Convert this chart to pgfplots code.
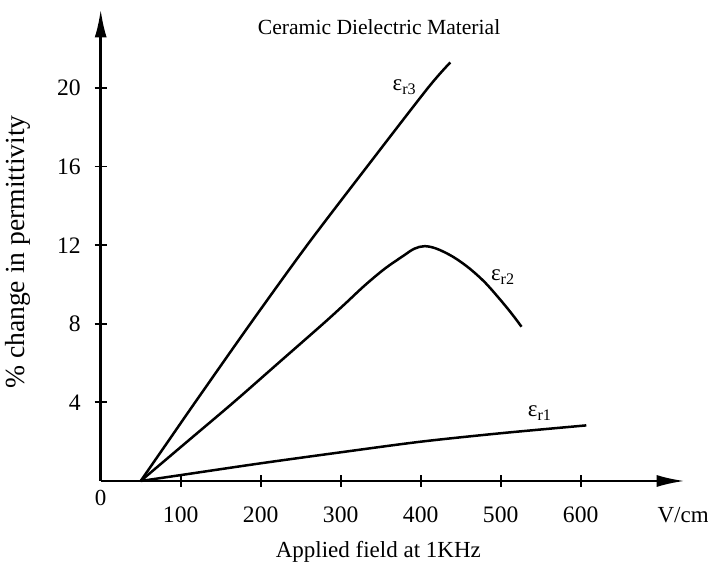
\documentclass[border=0pt]{standalone}
\usepackage{fontspec}
\setmainfont{Liberation Serif}
\usepackage{pgfplots}
\pgfplotsset{compat=1.18}
\usetikzlibrary{arrows.meta}
\begin{document}
\fontsize{11.5pt}{13pt}\selectfont
\begin{tikzpicture}
\useasboundingbox (-50.35pt,-45.5pt) rectangle (303.65pt,240.5pt);
\begin{axis}[
  at={(0pt,0pt)}, anchor=origin,
  scale only axis, width=292pt, height=235.8pt,
  xmin=0, xmax=730, ymin=0, ymax=24,
  axis lines=left,
  axis line style={line width=1.2pt, -{Latex[length=14pt,width=6pt]}},
  xtick={100,200,300,400,500,600}, ytick={4,8,12,16,20},
  tick align=center, major tick length=6pt,
  tick style={line width=0.9pt, black},
  clip=false,
  /pgf/number format/assume math mode=true,
  ticklabel style={font=\fontsize{11.8pt}{13pt}\selectfont},
  xticklabel style={yshift=-6pt},
  yticklabel style={xshift=-3pt},
]
\addplot[line width=1.25pt, smooth, tension=0.5] coordinates {
 (50,0) (84,2) (118,4) (187,8) (258,12) (333,16) (409,20) (437,21.3)};
\addplot[line width=1.25pt, smooth, tension=0.55] coordinates {
 (50,0) (108,2) (166,4) (222,6) (278,8) (305,9.0) (330,9.95) (355,10.8)
 (378,11.45) (392,11.82) (405,11.95) (420,11.82) (440,11.42) (460,10.85)
 (480,10.12) (500,9.2) (515,8.45) (526,7.85)};
\addplot[line width=1.25pt, smooth, tension=0.5] coordinates {
 (50,0) (100,0.3) (200,0.9) (300,1.46) (400,2.0) (500,2.43) (607,2.83)};
\node[font=\fontsize{10.8pt}{13pt}\selectfont] at (axis cs:348,23.1) {Ceramic Dielectric Material};
\node at (axis cs:380,20.05) {ε\textsubscript{r3}};
\node at (axis cs:503,10.38) {ε\textsubscript{r2}};
\node at (axis cs:549,3.46) {ε\textsubscript{r1}};
\node at (axis cs:0,-0.85) {0};
\node at (axis cs:728,-1.73) {V/cm};
\node at (axis cs:347,-3.6) {Applied field at 1KHz};
\node[rotate=90, font=\fontsize{13.8pt}{15pt}\selectfont] at (axis cs:-103,11.65) {\% change in permittivity};
\end{axis}
\end{tikzpicture}
\end{document}
